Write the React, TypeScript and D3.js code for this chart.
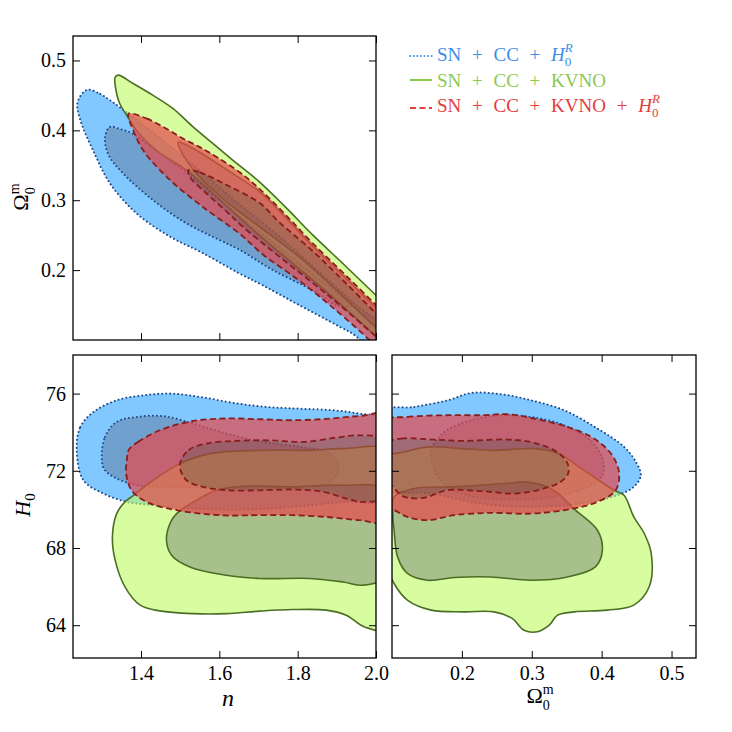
import React, { useEffect, useRef } from 'react';
import * as d3 from 'd3';

type Pt = [number, number];

const FONT = "'Liberation Serif', 'DejaVu Serif', serif";

// axis ranges and ticks
const N_DOMAIN: Pt = [1.2264, 2.0];
const OM_DOMAIN: Pt = [0.1, 0.535];
const H0_DOMAIN: Pt = [62.3, 78.0];
const N_TICKS = [1.4, 1.6, 1.8, 2.0];
const OM_TICKS = [0.2, 0.3, 0.4, 0.5];
const H0_TICKS = [64, 68, 72, 76];

// contour outlines (95% and 68% levels)
// panel n vs Omega_m
const BLUE_N_OM_95: Pt[] = [[1.262, 0.458], [1.296, 0.452], [1.321, 0.443], [1.346, 0.433], [1.40, 0.41], [1.48, 0.375], [1.56, 0.338], [1.65, 0.295], [1.75, 0.25], [1.85, 0.2], [1.95, 0.15], [2.04, 0.105], [2.0, 0.07], [1.95, 0.105], [1.907, 0.119], [1.797, 0.152], [1.712, 0.178], [1.652, 0.195], [1.559, 0.224], [1.474, 0.248], [1.389, 0.281], [1.321, 0.324], [1.278, 0.371], [1.245, 0.415], [1.238, 0.44]];
const BLUE_N_OM_68: Pt[] = [[1.308, 0.39], [1.321, 0.405], [1.346, 0.402], [1.38, 0.395], [1.44, 0.371], [1.516, 0.34], [1.584, 0.308], [1.652, 0.278], [1.74, 0.238], [1.82, 0.203], [1.9, 0.168], [1.94, 0.15], [1.907, 0.148], [1.839, 0.171], [1.737, 0.2], [1.652, 0.229], [1.601, 0.243], [1.516, 0.267], [1.431, 0.3], [1.355, 0.338], [1.317, 0.365]];
const GREEN_N_OM_95: Pt[] = [[1.334, 0.476], [1.342, 0.479], [1.38, 0.467], [1.431, 0.45], [1.482, 0.431], [1.533, 0.405], [1.584, 0.381], [1.635, 0.357], [1.703, 0.326], [1.771, 0.289], [1.839, 0.25], [1.92, 0.207], [2.0, 0.164], [2.05, 0.138], [2.05, 0.08], [2.0, 0.105], [1.882, 0.165], [1.797, 0.205], [1.712, 0.245], [1.652, 0.275], [1.584, 0.31], [1.516, 0.343], [1.44, 0.371], [1.395, 0.395], [1.364, 0.421], [1.346, 0.438], [1.338, 0.452]];
const GREEN_N_OM_68: Pt[] = [[1.495, 0.383], [1.533, 0.374], [1.618, 0.344], [1.703, 0.312], [1.771, 0.274], [1.839, 0.234], [1.92, 0.19], [2.0, 0.146], [2.04, 0.125], [2.04, 0.1], [2.0, 0.118], [1.882, 0.18], [1.797, 0.222], [1.712, 0.258], [1.635, 0.29], [1.593, 0.31], [1.55, 0.333], [1.516, 0.357]];
const RED_N_OM_95: Pt[] = [[1.368, 0.424], [1.414, 0.417], [1.466, 0.402], [1.508, 0.388], [1.55, 0.376], [1.593, 0.362], [1.652, 0.34], [1.703, 0.316], [1.771, 0.278], [1.839, 0.238], [1.92, 0.194], [2.0, 0.15], [2.05, 0.122], [2.05, 0.06], [1.983, 0.1], [1.882, 0.15], [1.797, 0.188], [1.712, 0.222], [1.652, 0.252], [1.559, 0.29], [1.474, 0.329], [1.406, 0.371], [1.38, 0.4], [1.37, 0.415]];
const RED_N_OM_68: Pt[] = [[1.521, 0.343], [1.55, 0.34], [1.618, 0.322], [1.703, 0.296], [1.754, 0.268], [1.839, 0.227], [1.92, 0.183], [2.0, 0.138], [2.04, 0.115], [2.04, 0.085], [2.0, 0.105], [1.882, 0.162], [1.754, 0.219], [1.66, 0.262], [1.618, 0.284], [1.567, 0.31], [1.525, 0.333]];

// panel n vs H0
const BLUE_N_H0_95: Pt[] = [[1.236, 73.06], [1.245, 74.27], [1.279, 75.05], [1.338, 75.65], [1.406, 75.91], [1.474, 76.0], [1.55, 75.83], [1.635, 75.52], [1.72, 75.31], [1.805, 75.22], [1.89, 75.14], [1.958, 74.96], [2.04, 74.6], [2.04, 70.6], [1.916, 70.39], [1.788, 70.13], [1.661, 69.99], [1.533, 70.04], [1.431, 70.22], [1.364, 70.39], [1.304, 70.82], [1.253, 71.51]];
const BLUE_N_H0_68: Pt[] = [[1.3, 72.55], [1.308, 73.76], [1.338, 74.53], [1.389, 74.79], [1.457, 74.83], [1.533, 74.45], [1.618, 73.93], [1.712, 73.5], [1.805, 73.24], [1.873, 72.98], [1.899, 72.55], [1.903, 71.94], [1.882, 71.42], [1.805, 71.17], [1.703, 71.17], [1.576, 71.13], [1.465, 71.17], [1.389, 71.25], [1.338, 71.6], [1.308, 72.03]];
const GREEN_N_H0_95: Pt[] = [[1.376, 70.65], [1.431, 71.51], [1.499, 72.37], [1.576, 72.89], [1.703, 73.06], [1.831, 73.06], [1.916, 73.15], [2.04, 72.95], [2.04, 63.8], [1.971, 63.91], [1.924, 64.52], [1.873, 64.78], [1.788, 64.81], [1.703, 64.73], [1.618, 64.6], [1.533, 64.6], [1.448, 64.74], [1.398, 65.04], [1.359, 65.99], [1.334, 67.37], [1.327, 68.58], [1.338, 69.78], [1.359, 70.39]];
const GREEN_N_H0_68: Pt[] = [[1.491, 69.78], [1.542, 70.48], [1.593, 70.99], [1.661, 71.2], [1.788, 71.17], [1.916, 71.25], [2.02, 70.99], [2.02, 66.5], [1.967, 66.07], [1.916, 66.24], [1.831, 66.42], [1.703, 66.42], [1.618, 66.59], [1.525, 67.02], [1.478, 67.63], [1.465, 68.4], [1.474, 69.27]];
const RED_N_H0_95: Pt[] = [[1.368, 73.06], [1.393, 73.5], [1.448, 74.1], [1.533, 74.58], [1.618, 74.71], [1.703, 74.67], [1.788, 74.62], [1.873, 74.69], [1.958, 74.84], [2.04, 74.88], [2.04, 69.4], [1.958, 69.44], [1.873, 69.61], [1.788, 69.7], [1.703, 69.7], [1.601, 69.7], [1.491, 69.96], [1.414, 70.39], [1.376, 70.99], [1.362, 71.86], [1.364, 72.55]];
const RED_N_H0_68: Pt[] = [[1.499, 72.29], [1.521, 73.06], [1.567, 73.41], [1.644, 73.55], [1.729, 73.58], [1.814, 73.5], [1.899, 73.72], [1.958, 73.84], [2.02, 73.58], [2.02, 70.65], [1.967, 70.39], [1.924, 70.56], [1.865, 70.91], [1.788, 71.03], [1.703, 70.99], [1.618, 70.99], [1.559, 71.17], [1.516, 71.51]];

// panel Omega_m vs H0
const BLUE_OM_H0_95: Pt[] = [[0.085, 75.05], [0.132, 75.31], [0.18, 75.65], [0.213, 76.03], [0.256, 75.97], [0.299, 75.65], [0.346, 75.14], [0.394, 74.19], [0.432, 73.24], [0.449, 72.46], [0.456, 71.77], [0.446, 71.17], [0.422, 70.73], [0.37, 70.3], [0.299, 70.13], [0.227, 70.3], [0.156, 70.82], [0.085, 71.17]];
const BLUE_OM_H0_68: Pt[] = [[0.156, 73.06], [0.175, 74.01], [0.213, 74.62], [0.256, 74.88], [0.299, 74.79], [0.346, 74.36], [0.384, 73.58], [0.402, 72.55], [0.401, 71.77], [0.38, 71.17], [0.332, 70.65], [0.275, 70.5], [0.218, 70.65], [0.18, 71.17], [0.161, 72.03]];
const GREEN_OM_H0_95: Pt[] = [[0.085, 73.0], [0.103, 72.89], [0.151, 73.24], [0.199, 73.15], [0.246, 73.06], [0.303, 73.15], [0.332, 72.98], [0.351, 72.63], [0.361, 72.37], [0.389, 71.68], [0.418, 70.99], [0.432, 70.73], [0.446, 69.61], [0.461, 68.75], [0.471, 67.71], [0.468, 65.99], [0.446, 65.04], [0.408, 64.78], [0.361, 64.69], [0.337, 64.52], [0.325, 64.0], [0.308, 63.66], [0.289, 63.74], [0.272, 64.35], [0.246, 64.69], [0.203, 64.69], [0.156, 64.78], [0.122, 65.3], [0.103, 66.16], [0.085, 67.89]];
const GREEN_OM_H0_68: Pt[] = [[0.103, 70.65], [0.132, 71.08], [0.189, 71.17], [0.26, 71.34], [0.293, 71.42], [0.322, 71.17], [0.341, 70.73], [0.36, 70.04], [0.394, 68.92], [0.401, 67.89], [0.391, 67.02], [0.351, 66.5], [0.299, 66.33], [0.241, 66.5], [0.189, 66.47], [0.151, 66.33], [0.122, 66.68], [0.108, 67.54], [0.103, 68.92], [0.101, 69.78]];
const RED_OM_H0_95: Pt[] = [[0.085, 74.53], [0.122, 74.79], [0.18, 74.88], [0.227, 74.88], [0.265, 74.93], [0.303, 74.71], [0.351, 74.27], [0.389, 73.67], [0.415, 72.81], [0.425, 71.86], [0.42, 70.99], [0.394, 70.39], [0.351, 69.99], [0.299, 69.78], [0.241, 69.82], [0.189, 69.7], [0.151, 69.44], [0.122, 69.61], [0.103, 69.96], [0.085, 70.13]];
const RED_OM_H0_68: Pt[] = [[0.093, 73.41], [0.113, 73.67], [0.156, 73.62], [0.203, 73.55], [0.265, 73.62], [0.303, 73.45], [0.336, 72.98], [0.351, 72.4], [0.352, 71.86], [0.341, 71.42], [0.313, 71.04], [0.275, 70.82], [0.227, 70.95], [0.18, 71.0], [0.145, 70.6], [0.118, 70.65], [0.103, 71.1], [0.093, 71.6]];

const SERIES = [
  { fill95: '#2ca3ff', fill68: '#1161ac', alpha: 0.6, stroke: '#1d4a86', dash: '0.01,4', cap: 'round', width: 2, text: '#3a8ee6' },
  { fill95: '#befa61', fill68: '#6e963f', alpha: 0.6, stroke: '#4b6e25', dash: null, cap: 'butt', width: 1.6, text: '#8cc850' },
  { fill95: '#e7474c', fill68: '#af413d', alpha: 0.7, stroke: '#8b1c1c', dash: '6,3.5', cap: 'butt', width: 1.8, text: '#e53c3c' },
];

const PANELS = [
  {
    left: 73, top: 36, w: 303, h: 304, xDom: N_DOMAIN, yDom: OM_DOMAIN, xTicks: N_TICKS, yTicks: OM_TICKS,
    showX: false, showY: true, xFmt: '.1f', yFmt: '.1f',
    sets: [[BLUE_N_OM_95, BLUE_N_OM_68], [GREEN_N_OM_95, GREEN_N_OM_68], [RED_N_OM_95, RED_N_OM_68]],
  },
  {
    left: 73, top: 355, w: 303, h: 303, xDom: N_DOMAIN, yDom: H0_DOMAIN, xTicks: N_TICKS, yTicks: H0_TICKS,
    showX: true, showY: true, xFmt: '.1f', yFmt: 'd',
    sets: [[BLUE_N_H0_95, BLUE_N_H0_68], [GREEN_N_H0_95, GREEN_N_H0_68], [RED_N_H0_95, RED_N_H0_68]],
  },
  {
    left: 392, top: 355, w: 304, h: 303, xDom: OM_DOMAIN, yDom: H0_DOMAIN, xTicks: OM_TICKS, yTicks: H0_TICKS,
    showX: true, showY: false, xFmt: '.1f', yFmt: 'd',
    sets: [[BLUE_OM_H0_95, BLUE_OM_H0_68], [GREEN_OM_H0_95, GREEN_OM_H0_68], [RED_OM_H0_95, RED_OM_H0_68]],
  },
];

export default function App() {
  const svgRef = useRef<SVGSVGElement>(null);

  useEffect(() => {
    if (!svgRef.current) return;
    const svg = d3.select(svgRef.current);
    svg.selectAll('*').remove();

    PANELS.forEach((p, pi) => {
      const x = d3.scaleLinear().domain(p.xDom).range([0, p.w]);
      const y = d3.scaleLinear().domain(p.yDom).range([p.h, 0]);
      const line = d3.line<Pt>()
        .x(d => x(d[0]))
        .y(d => y(d[1]))
        .curve(d3.curveCatmullRomClosed.alpha(0.5));

      const g = svg.append('g').attr('transform', `translate(${p.left},${p.top})`);
      const clipId = `panel-clip-${pi}`;
      g.append('clipPath').attr('id', clipId)
        .append('rect').attr('width', p.w).attr('height', p.h);
      const plot = g.append('g').attr('clip-path', `url(#${clipId})`);

      SERIES.forEach((s, si) => {
        const [outer, inner] = p.sets[si];
        const dOuter = line(outer) as string;
        const dInner = line(inner) as string;
        // outer band (ring), then the inner region
        plot.append('path')
          .attr('d', dOuter + dInner)
          .attr('fill-rule', 'evenodd')
          .attr('fill', s.fill95)
          .attr('fill-opacity', s.alpha);
        plot.append('path')
          .attr('d', dInner)
          .attr('fill', s.fill68)
          .attr('fill-opacity', s.alpha);
        [dOuter, dInner].forEach(d => {
          plot.append('path')
            .attr('d', d)
            .attr('fill', 'none')
            .attr('stroke', s.stroke)
            .attr('stroke-width', s.width)
            .attr('stroke-linecap', s.cap)
            .attr('stroke-dasharray', s.dash);
        });
      });

      // ticks on all four sides, pointing inwards
      const styleAxis = (sel: any) => {
        sel.attr('font-family', null).attr('font-size', null);
        sel.select('.domain').remove();
        sel.selectAll('line').attr('stroke', '#000').attr('stroke-width', 1);
        sel.selectAll('text')
          .style('font-family', FONT)
          .style('font-size', '20px')
          .attr('fill', '#000');
      };
      const fx = d3.format(p.xFmt);
      const fy = d3.format(p.yFmt);
      g.append('g').attr('transform', `translate(0,${p.h})`)
        .call(d3.axisBottom(x).tickValues(p.xTicks).tickSize(-7).tickSizeOuter(0).tickPadding(8)
          .tickFormat((d: any) => (p.showX ? fx(d) : '')))
        .call(styleAxis);
      g.append('g')
        .call(d3.axisTop(x).tickValues(p.xTicks).tickSize(-7).tickSizeOuter(0).tickFormat(() => ''))
        .call(styleAxis);
      g.append('g')
        .call(d3.axisLeft(y).tickValues(p.yTicks).tickSize(-7).tickSizeOuter(0).tickPadding(7)
          .tickFormat((d: any) => (p.showY ? fy(d) : '')))
        .call(styleAxis);
      g.append('g').attr('transform', `translate(${p.w},0)`)
        .call(d3.axisRight(y).tickValues(p.yTicks).tickSize(-7).tickSizeOuter(0).tickFormat(() => ''))
        .call(styleAxis);

      g.append('rect')
        .attr('width', p.w).attr('height', p.h)
        .attr('fill', 'none').attr('stroke', '#000').attr('stroke-width', 1.3);
    });

    // axis labels
    const omega = (t: any) => {
      t.append('tspan').text('Ω');
      t.append('tspan').style('font-size', '14px').attr('dy', 7).text('0');
      t.append('tspan').style('font-size', '14px').attr('dx', -7).attr('dy', -16).text('m');
    };
    const label = (tx: string, size = 22) => svg.append('text')
      .attr('transform', tx)
      .attr('text-anchor', 'middle')
      .style('font-family', FONT)
      .style('font-size', `${size}px`)
      .attr('fill', '#000');

    label('translate(28,197) rotate(-90)').call(omega);
    label('translate(540,703)').call(omega);
    const h0 = label('translate(30,505) rotate(-90)');
    h0.append('tspan').style('font-style', 'italic').text('H');
    h0.append('tspan').style('font-size', '15px').attr('dy', 5).text('0');
    label('translate(228,706)', 24).style('font-style', 'italic').text('n');

    // legend
    const legendRows = [
      { y: 61, ly: 56, base: 'SN + CC + ', h0r: true },
      { y: 87, ly: 80, base: 'SN + CC + KVNO', h0r: false },
      { y: 112, ly: 108, base: 'SN + CC + KVNO + ', h0r: true },
    ];
    legendRows.forEach((r, i) => {
      const s = SERIES[i];
      svg.append('line')
        .attr('x1', 410).attr('x2', 432).attr('y1', r.ly).attr('y2', r.ly)
        .attr('stroke', s.text)
        .attr('stroke-width', 2)
        .attr('stroke-linecap', s.cap)
        .attr('stroke-dasharray', i === 0 ? '0.01,3.6' : s.dash);
      const t = svg.append('text')
        .attr('x', 437).attr('y', r.y)
        .style('font-family', FONT)
        .style('font-size', '19px')
        .attr('fill', s.text)
        .style('word-spacing', '6px')
        .style('white-space', 'pre');
      t.append('tspan').text(r.base);
      if (r.h0r) {
        t.append('tspan').style('font-style', 'italic').text('H');
        t.append('tspan').style('font-size', '13px').attr('dy', 5).text('0');
        t.append('tspan').style('font-size', '13px').style('font-style', 'italic').attr('dx', -6.5).attr('dy', -14).text('R');
      }
    });
  }, []);

  return (
    <svg
      ref={svgRef}
      width={732}
      height={732}
      viewBox="0 0 732 732"
      style={{ position: 'absolute', left: 0, top: 0, background: '#fff' }}
    />
  );
}
